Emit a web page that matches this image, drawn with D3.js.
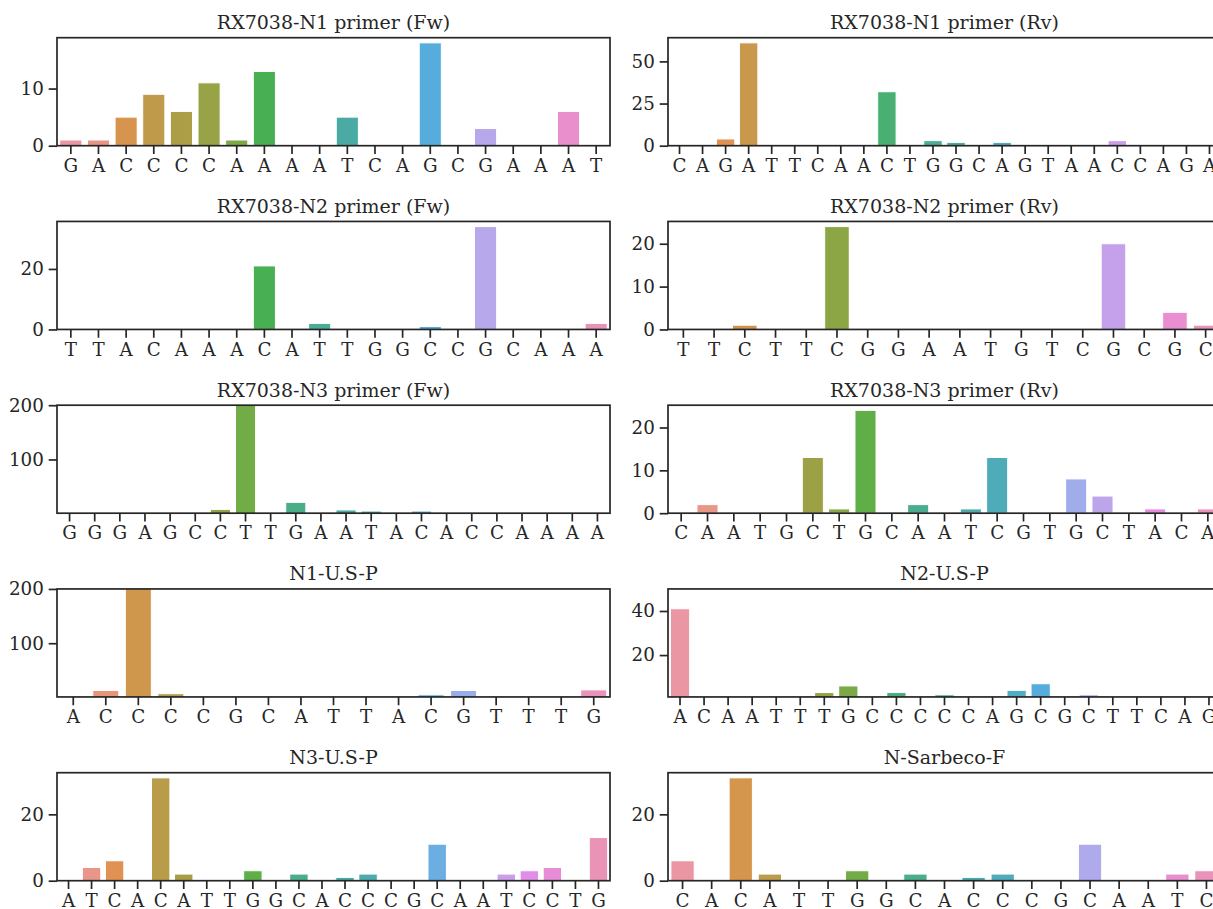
<!DOCTYPE html>
<meta charset="utf-8">
<style>
body { margin: 0; background: #fff; }
svg text { font-family: "DejaVu Serif", serif; fill: #262626; }
.title { font-size: 19px; }
.axis text { font-size: 18.3px; }
.axis path.domain { display: none; }
.axis line { stroke: #262626; stroke-width: 1.7px; }
.frame { fill: none; stroke: #262626; stroke-width: 1.7px; }
.bar { stroke: #fff; stroke-width: 1px; }
</style>
<body>
<script src="https://d3js.org/d3.v7.min.js"></script>
<script>

// panel titles, left to right, top to bottom
var titles = [
  "RX7038-N1 primer (Fw)", "RX7038-N1 primer (Rv)",
  "RX7038-N2 primer (Fw)", "RX7038-N2 primer (Rv)",
  "RX7038-N3 primer (Fw)", "RX7038-N3 primer (Rv)",
  "N1-U.S-P", "N2-U.S-P",
  "N3-U.S-P", "N-Sarbeco-F"
];

// sequences (one bar per base)
var n1FwSeq = "GACCCCAAAATCAGCGAAAT";
var n1RvSeq = "CAGATTCAACTGGCAGTAACCAGA";
var n2FwSeq = "TTACAAACATTGGCCGCAAA";
var n2RvSeq = "TTCTTCGGAATGTCGCGC";
var n3FwSeq = "GGGAGCCTTGAATACACCAAAA";
var n3RvSeq = "CAATGCTGCAATCGTGCTACA";
var n1ProbeSeq = "ACCCCGCATTACGTTTG";
var n2ProbeSeq = "ACAATTTGCCCCCAGCGCTTCAG";
var n3ProbeSeq = "ATCACATTGGCACCCGCAATCCTG";
var sarbecoSeq = "CACATTGGCACCCGCAATC";

// counts per base
var n1Fw = [1, 1, 5, 9, 6, 11, 1, 13, 0, 0, 5, 0, 0, 18, 0, 3, 0, 0, 6, 0];
var n1Rv = [0, 0, 4, 61, 0, 0, 0, 0, 0, 32, 0, 3, 2, 0, 2, 0, 0, 0, 0, 3, 0, 0, 0, 0];
var n2Fw = [0, 0, 0, 0, 0, 0, 0, 21, 0, 2, 0, 0, 0, 1, 0, 34, 0, 0, 0, 2];
var n2Rv = [0, 0, 1, 0, 0, 24, 0, 0, 0, 0, 0, 0, 0, 0, 20, 0, 4, 1];
var n3Fw = [0, 0, 0, 0, 2, 0, 8, 230, 0, 21, 0, 7, 5, 0, 5, 0, 2, 0, 0, 0, 0, 0];
var n3Rv = [0, 2, 0, 0, 0, 13, 1, 24, 0, 2, 0, 1, 13, 0, 0, 8, 4, 0, 1, 0, 1];
var n1Probe = [0, 13, 215, 7, 2, 2, 0, 0, 0, 0, 0, 5, 13, 0, 0, 0, 14];
var n2Probe = [41, 0, 0, 0, 0, 0, 3, 6, 0, 3, 0, 2, 0, 0, 4, 7, 0, 2, 0, 0, 0, 0, 0];
var n3Probe = [0, 4, 6, 0, 31, 2, 0, 0, 3, 0, 2, 0, 1, 2, 0, 0, 11, 0, 0, 2, 3, 4, 0, 13];
var sarbeco = [6, 0, 31, 2, 0, 0, 3, 0, 2, 0, 1, 2, 0, 0, 11, 0, 0, 2, 3];

// y tick labels per panel
var yTicks = [[0, 10], [0, 25, 50], [0, 20], [0, 10, 20], [100, 200],
              [0, 10, 20], [100, 200], [20, 40], [0, 20], [0, 20]];

// panels with a fixed y range (others: 0 .. max*1.05)
var fixedY = {4: [1, 200], 6: [1, 200], 7: [1, 50]};

var seqs = [n1FwSeq, n1RvSeq, n2FwSeq, n2RvSeq, n3FwSeq, n3RvSeq,
            n1ProbeSeq, n2ProbeSeq, n3ProbeSeq, sarbecoSeq];
var counts = [n1Fw, n1Rv, n2Fw, n2Rv, n3Fw, n3Rv, n1Probe, n2Probe, n3Probe, sarbeco];

// seaborn style husl palette (l=.7, s=.9) desaturated to .75
var M = [[3.2406, -1.5372, -0.4986], [-0.9689, 1.8758, 0.0415], [0.0557, -0.2040, 1.0570]];
function maxChroma(L, H) {
  var hrad = H / 360 * 2 * Math.PI, sinH = Math.sin(hrad), cosH = Math.cos(hrad);
  var sub1 = Math.pow(L + 16, 3) / 1560896;
  var sub2 = sub1 > 0.008856 ? sub1 : L / 903.3;
  var result = Infinity;
  M.forEach(function(r) {
    var top = (0.99915 * r[0] + 1.05122 * r[1] + 1.14460 * r[2]) * sub2;
    var rb = 0.86330 * r[2] - 0.17266 * r[1];
    var lb = 0.12949 * r[2] - 0.38848 * r[0];
    var bottom = (rb * sinH + lb * cosH) * sub2;
    [0, 1].forEach(function(t) {
      var C = L * (top - 1.05122 * t) / (bottom + 0.17266 * sinH * t);
      if (C > 0 && C < result) result = C;
    });
  });
  return result;
}
function husl(H, S, L) {
  var C = maxChroma(L, H) / 100 * S, hrad = H / 360 * 2 * Math.PI;
  var U = C * Math.cos(hrad), V = C * Math.sin(hrad);
  var t = (L + 16) / 116;
  var Y = Math.pow(t, 3) > 0.008856 ? Math.pow(t, 3) : (116 * t - 16) / 903.3;
  var vU = U / (13 * L) + 0.19784, vV = V / (13 * L) + 0.46834;
  var X = 0 - (9 * Y * vU) / ((vU - 4) * vV - vU * vV);
  var Z = (9 * Y - 15 * vV * Y - vV * X) / (3 * vV);
  var rgb = M.map(function(r) {
    var c = r[0] * X + r[1] * Y + r[2] * Z;
    c = c <= 0.0031308 ? 12.92 * c : 1.055 * Math.pow(c, 1 / 2.4) - 0.055;
    return Math.max(0, Math.min(1, c)) * 255;
  });
  var hsl = d3.hsl(d3.rgb(rgb[0], rgb[1], rgb[2]));
  hsl.s *= 0.75;
  return hsl.formatHex();
}
function palette(n) {
  return d3.range(n).map(function(i) {
    var h = ((i / n + 0.01) % 1) * 359;
    return husl(h, 0.9 * 99, 0.7 * 99);
  });
}

var width = 1213, height = 909;
var colX = [57, 668], pw = 553, ph = 108;
var rowTop = 37.7, rowStep = 183.75;

var svg = d3.select("body").append("svg")
    .attr("width", width)
    .attr("height", height);

counts.forEach(function(vals, p) {
  var seq = seqs[p].split("");
  var col = p % 2, row = Math.floor(p / 2);
  var g = svg.append("g")
      .attr("transform", "translate(" + colX[col] + "," + (rowTop + row * rowStep) + ")");

  var x = d3.scaleBand()
      .domain(d3.range(seq.length))
      .range([0, pw])
      .paddingInner(0.2)
      .paddingOuter(0.1);
  var yDom = fixedY[p] || [0, d3.max(vals) * 1.05];
  var y = d3.scaleLinear().domain(yDom).range([ph, 0]);
  var colors = palette(seq.length);

  g.append("clipPath").attr("id", "clip" + p)
    .append("rect").attr("width", pw).attr("height", ph);

  g.append("g").attr("clip-path", "url(#clip" + p + ")")
    .selectAll(".bar")
    .data(vals)
    .enter().append("rect")
      .attr("class", "bar")
      .attr("x", function(d, i) { return x(i); })
      .attr("width", x.bandwidth())
      .attr("y", function(d) { return y(d); })
      .attr("height", function(d) { return y(0) - y(d); })
      .style("fill", function(d, i) { return colors[i]; });

  g.append("g")
      .attr("class", "axis")
      .attr("transform", "translate(0," + ph + ")")
      .call(d3.axisBottom(x).tickSize(8.3).tickPadding(4.9).tickSizeOuter(0)
        .tickFormat(function(i) { return seq[i]; }));

  g.append("g")
      .attr("class", "axis")
      .call(d3.axisLeft(y).tickValues(yTicks[p]).tickSize(8.3).tickPadding(4.9)
        .tickSizeOuter(0).tickFormat(d3.format("d")));

  g.append("rect").attr("class", "frame")
      .attr("width", pw).attr("height", ph);

  g.append("text")
      .attr("class", "title")
      .attr("x", pw / 2)
      .attr("y", -8.5)
      .style("text-anchor", "middle")
      .text(titles[p]);
});

</script>
</body>
